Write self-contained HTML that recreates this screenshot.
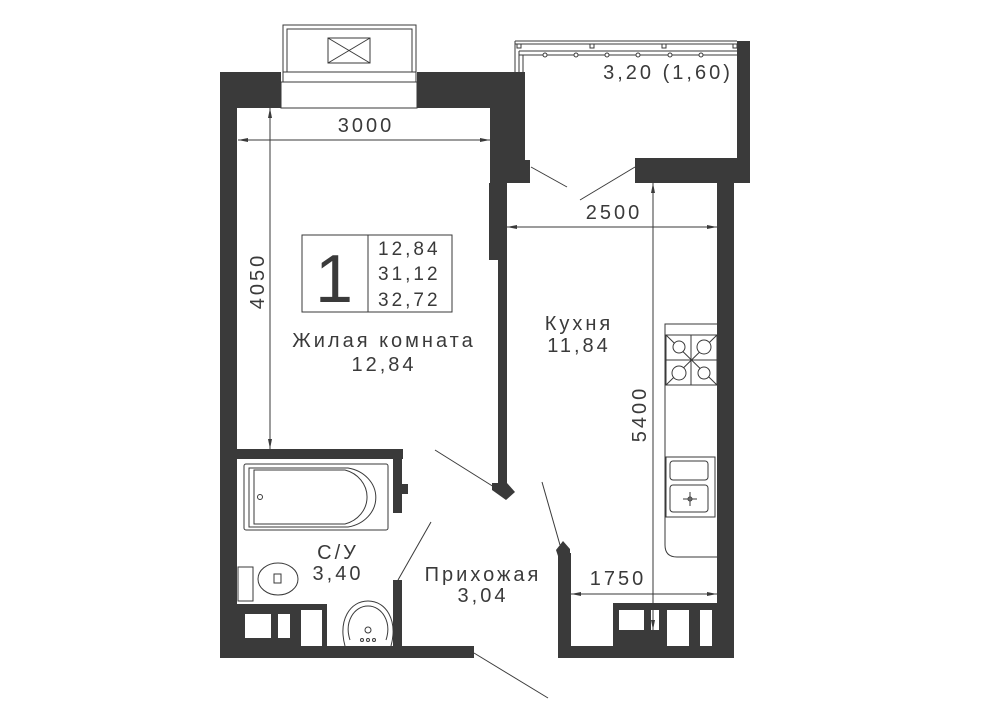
<!DOCTYPE html>
<html><head><meta charset="utf-8"><style>
html,body{margin:0;padding:0;background:#fff;}
svg{display:block;}
text{font-family:"Liberation Sans","DejaVu Sans",sans-serif;fill:#3a3a3a;}
</style></head><body>
<svg width="1000" height="707" viewBox="0 0 1000 707" xmlns="http://www.w3.org/2000/svg">
<g fill="#3a3a3a">
<rect x="220" y="72" width="17" height="586"/>
<rect x="220" y="72" width="61" height="36"/>
<rect x="417" y="72" width="108" height="36"/>
<rect x="490" y="72" width="35" height="88"/>
<rect x="490" y="160" width="40" height="23"/>
<rect x="489" y="183" width="18" height="77"/>
<rect x="498" y="260" width="9" height="225"/>
<polygon points="492,483 507,483 515,492 506,500 492,490"/>
<rect x="737" y="41" width="13" height="142"/>
<rect x="635" y="158" width="115" height="25"/>
<rect x="717" y="183" width="17" height="475"/>
<rect x="237" y="449" width="166" height="10"/>
<rect x="393" y="449" width="9" height="64"/>
<rect x="402" y="484" width="6" height="10"/>
<rect x="393" y="580" width="9" height="68"/>
<rect x="220" y="646" width="254" height="12"/>
<rect x="558" y="553" width="13" height="105"/>
<polygon points="556,550 563,541 570,549 570,556 558,556"/>
<rect x="558" y="646" width="176" height="12"/>
<rect x="613" y="603" width="105" height="43"/>
<rect x="237" y="604" width="90" height="42"/>
</g>
<g fill="#fff">
<rect x="619" y="610" width="25" height="20"/>
<rect x="651" y="610" width="8" height="20"/>
<rect x="667" y="610" width="22" height="36"/>
<rect x="700" y="610" width="12" height="36"/>
<rect x="245" y="614" width="26" height="24"/>
<rect x="278" y="614" width="12" height="24"/>
<rect x="301" y="610" width="21" height="36"/>
</g>
<g fill="none" stroke="#3a3a3a" stroke-width="1">
<rect x="283" y="25" width="133" height="47"/>
<rect x="287" y="29" width="125" height="43"/>
<rect x="328" y="38" width="42" height="25"/>
<line x1="328" y1="38" x2="370" y2="63"/><line x1="370" y1="38" x2="328" y2="63"/>
<rect x="283" y="72" width="133" height="10"/>
<rect x="281" y="82" width="136" height="26"/>
<line x1="515" y1="41" x2="737" y2="41"/>
<line x1="515" y1="44" x2="737" y2="44"/>
<line x1="519" y1="51" x2="737" y2="51"/>
<line x1="519" y1="55" x2="737" y2="55"/>
<line x1="515" y1="41" x2="515" y2="72"/>
<line x1="519" y1="51" x2="519" y2="72"/>
<line x1="523" y1="55" x2="523" y2="72"/>
<rect x="517" y="44" width="4" height="4"/><rect x="590" y="44" width="4" height="4"/><rect x="662" y="44" width="4" height="4"/><rect x="733" y="44" width="4" height="4"/>
<line x1="531" y1="167" x2="567" y2="187"/>
<line x1="635" y1="167" x2="580" y2="200"/>
<line x1="435" y1="450" x2="494" y2="487"/>
<line x1="431" y1="522" x2="398" y2="580"/>
<line x1="542" y1="482" x2="560" y2="545"/>
<line x1="474" y1="653" x2="548" y2="698"/>
<rect x="244" y="464" width="144" height="66" rx="2"/>
<path d="M254 470 H345 A30 28 0 0 1 345 524 H254 Z"/>
<path d="M249 468 H348 A34 30 0 0 1 348 527 H249 Z"/>
<circle cx="260" cy="497" r="2.5"/>
<rect x="238" y="567" width="15" height="34"/>
<ellipse cx="278" cy="579" rx="20" ry="16"/>
<rect x="274" y="574" width="7" height="9"/>
<path d="M345 646 C338 620 350 601 368 601 C386 601 398 620 391 646"/>
<path d="M350 640 C344 622 354 606 368 606 C382 606 392 622 386 640"/>
<circle cx="368" cy="630" r="3"/>
<circle cx="362" cy="640" r="1.5"/><circle cx="368" cy="640" r="1.5"/><circle cx="374" cy="640" r="1.5"/>
<path d="M717 324 H665 V545 Q665 557 677 557 H717"/>
<rect x="666" y="335" width="51" height="50"/>
<line x1="691" y1="335" x2="691" y2="385"/><line x1="666" y1="360" x2="717" y2="360"/>
<line x1="666" y1="335" x2="717" y2="385"/><line x1="717" y1="335" x2="666" y2="385"/>
<circle cx="679" cy="347" r="6" fill="#fff"/><circle cx="704" cy="347" r="7" fill="#fff"/>
<circle cx="679" cy="373" r="7" fill="#fff"/><circle cx="704" cy="373" r="6" fill="#fff"/>
<rect x="666" y="457" width="49" height="60"/>
<rect x="670" y="461" width="38" height="19" rx="3"/>
<rect x="670" y="485" width="38" height="27" rx="3"/>
<line x1="690" y1="492" x2="690" y2="506"/><line x1="683" y1="499" x2="697" y2="499"/>
<circle cx="690" cy="499" r="2"/>
<line x1="238" y1="140" x2="490" y2="140"/>
<line x1="270" y1="108" x2="270" y2="449"/>
<line x1="507" y1="227" x2="717" y2="227"/>
<line x1="653" y1="183" x2="653" y2="630"/>
<line x1="571" y1="594" x2="717" y2="594"/>
<rect x="302" y="235" width="150" height="77"/>
<line x1="368" y1="235" x2="368" y2="312"/>
</g>
<g fill="#fff" stroke="#3a3a3a" stroke-width="1">
<circle cx="545" cy="55" r="2"/><circle cx="576" cy="55" r="2"/><circle cx="607" cy="55" r="2"/><circle cx="638" cy="55" r="2"/><circle cx="670" cy="55" r="2"/><circle cx="701" cy="55" r="2"/>
</g>
<g fill="#3a3a3a">
<polygon points="238,140 248,138 248,142"/><polygon points="490,140 480,138 480,142"/>
<polygon points="270,108 268,118 272,118"/><polygon points="270,449 268,439 272,439"/>
<polygon points="507,227 517,225 517,229"/><polygon points="717,227 707,225 707,229"/>
<polygon points="653,183 651,193 655,193"/><polygon points="653,630 651,620 655,620"/>
<polygon points="571,594 581,592 581,596"/><polygon points="717,594 707,592 707,596"/>
</g>
<g font-size="20" text-anchor="middle" letter-spacing="3">
<text x="366" y="132">3000</text>
<text x="614" y="219">2500</text>
<text x="668" y="79">3,20 (1,60)</text>
<text x="618" y="585">1750</text>
<text transform="translate(264,281) rotate(-90)">4050</text>
<text transform="translate(646,414) rotate(-90)">5400</text>
<text x="384" y="347">Жилая комната</text>
<text x="384" y="371">12,84</text>
<text x="579" y="330">Кухня</text>
<text x="579" y="352">11,84</text>
<text x="338" y="559">С/У</text>
<text x="338" y="580">3,40</text>
<text x="483" y="581">Прихожая</text>
<text x="483" y="602">3,04</text>
</g>
<text x="334" y="302" font-size="68" text-anchor="middle">1</text>
<g font-size="19" letter-spacing="3">
<text x="378" y="255">12,84</text>
<text x="378" y="280">31,12</text>
<text x="378" y="306">32,72</text>
</g>
</svg>
</body></html>
